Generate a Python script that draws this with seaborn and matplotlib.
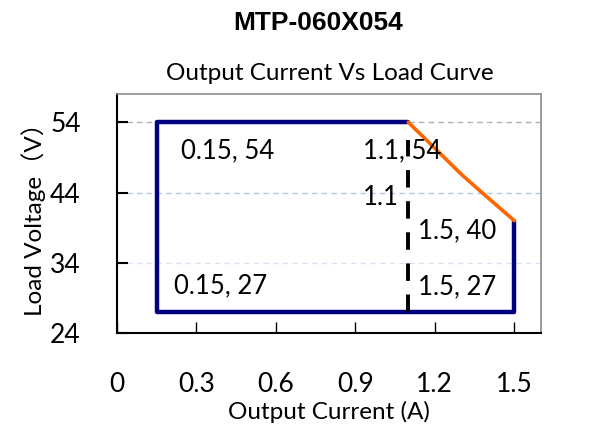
import pandas as pd
import matplotlib.pyplot as plt
import seaborn as sns

# limit curve data
box_current = [1.1, 0.15, 0.15, 1.5, 1.5]
box_voltage = [54, 54, 27, 27, 40]
power_current = [1.1, 1.2, 1.3, 1.36, 1.5]
power_voltage = [54, 50.3, 46.6, 44.6, 40]
split_current = [1.1, 1.1]
split_voltage = [27, 51.5]

labels = ['0.15, 54', '1.1, 54', '1.1', '1.5, 40', '0.15, 27', '1.5, 27']
label_x = [0.24, 0.93, 0.93, 1.135, 0.215, 1.135]
label_y = [50, 50, 43.3, 38.6, 30.7, 30.6]

x_ticks = [0, 0.3, 0.6, 0.9, 1.2, 1.5]
y_ticks = [24, 34, 44, 54]

sns.set_style('white')
plt.rcParams['font.family'] = ['Lato', 'Noto Sans CJK SC', 'DejaVu Sans']
plt.rcParams['text.color'] = 'black'
plt.rcParams['axes.labelcolor'] = 'black'
plt.rcParams['xtick.color'] = 'black'
plt.rcParams['ytick.color'] = 'black'

fig = plt.figure(figsize=(6.11, 4.40), dpi=100)
ax = fig.add_axes([0.1915, 0.243, 0.6935, 0.543])

# horizontal grid lines
ax.axhline(54, color='#b0b0b0', lw=1, ls=(0, (4, 3)), zorder=0)
ax.axhline(44, color='#b4c7e7', lw=1, ls=(0, (4, 3)), zorder=0)
ax.axhline(34, color='#dae3f3', lw=1, ls=(0, (4, 3)), zorder=0)

box = pd.DataFrame({'I': box_current, 'V': box_voltage})
sns.lineplot(data=box, x='I', y='V', sort=False, estimator=None, errorbar=None,
             color='#000080', lw=3.2, ax=ax, zorder=3)
pw = pd.DataFrame({'I': power_current, 'V': power_voltage})
sns.lineplot(data=pw, x='I', y='V', sort=False, estimator=None, errorbar=None,
             color='#ff6600', lw=2.6, ax=ax, zorder=3)
sp = pd.DataFrame({'I': split_current, 'V': split_voltage})
sns.lineplot(data=sp, x='I', y='V', sort=False, estimator=None, errorbar=None,
             color='black', lw=2.8, ax=ax, linestyle=(0, (4.5, 3.5)), zorder=4)

for t, x, y in zip(labels, label_x, label_y):
    ax.text(x, y, t, fontsize=18.5, ha='left', va='center', zorder=5)

ax.set_xlim(0, 1.6)
ax.set_ylim(24, 58)
ax.set_xticks(x_ticks)
ax.set_xticklabels(['0', '0.3', '0.6', '0.9', '1.2', '1.5'])
ax.set_yticks(y_ticks)
ax.tick_params(axis='x', direction='in', length=8, width=1, pad=28, labelsize=19, bottom=True)
ax.tick_params(axis='y', direction='in', length=8, width=1.5, pad=26, labelsize=19, left=True)
ax.set_xlabel('Output Current (A)', fontsize=17.5, labelpad=3)
ax.set_ylabel('Load Voltage（V）', fontsize=17.5, labelpad=3)

for s in ['left', 'bottom']:
    ax.spines[s].set_color('black')
    ax.spines[s].set_linewidth(1.5)
for s in ['top', 'right']:
    ax.spines[s].set_color('#8c8c8c')
    ax.spines[s].set_linewidth(1.2)

fig.text(0.52, 0.948, 'MTP-060X054', fontsize=19, fontweight='bold',
         family='Liberation Sans', ha='center', va='center')
fig.text(0.54, 0.833, 'Output Current Vs Load Curve', fontsize=17.5, ha='center', va='center')

fig.savefig('out.png', dpi=100)
